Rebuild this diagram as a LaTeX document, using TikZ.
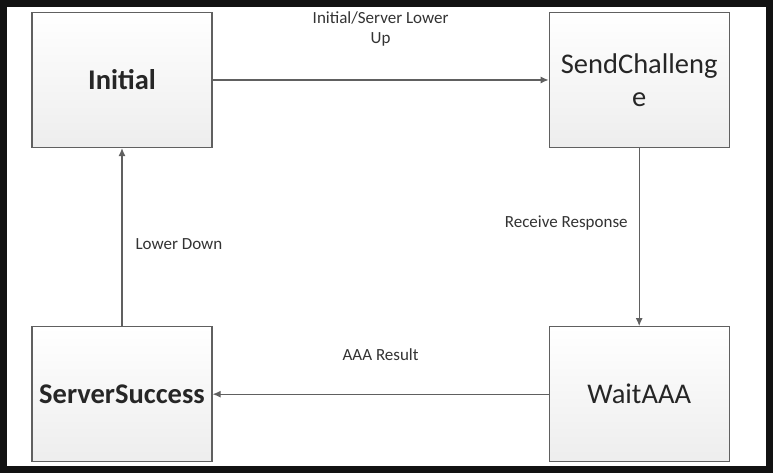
\documentclass[tikz,border=0pt]{standalone}
\usepackage{fontspec}
\setmainfont{Carlito}
\usetikzlibrary{positioning, arrows.meta}

\begin{document}
\begin{tikzpicture}[statenode/.style={rectangle, draw=gray!75!black, line width=1.2pt, top color=white, bottom color=gray!14, minimum width=180pt, minimum height=135pt, align=center, text=black!85, font=\fontsize{28.5pt}{33pt}\selectfont},
                     edgelabel/.style={align=center, text=black!80, inner sep=0pt, font=\fontsize{17pt}{20.5pt}\selectfont},
                     >={Latex[length=8pt, width=7pt]}]
    % Frame
    \fill[black!93] (0,0) rectangle (773pt,473pt);
    \fill[white] (7pt,7pt) rectangle (766pt,466pt);
    \useasboundingbox (0,0) rectangle (773pt,473pt);
    % Node
    \node[statenode, font=\bfseries\fontsize{28.5pt}{33pt}\selectfont] (initial) at (122pt,393pt) {Initial};
    \node[statenode] (sendchallenge) [right=336pt of initial] {SendChalleng\\e};
    \node[statenode, font=\bfseries\fontsize{28.5pt}{33pt}\selectfont] (serversuccess) [below=178pt of initial] {ServerSuccess};
    \node[statenode] (waitaaa) [below=178pt of sendchallenge] {WaitAAA};
    % Lines
    \draw[->, gray!75!black, line width=1.2pt] (initial.east) -- (sendchallenge.west) node[edgelabel, midway, above=33pt] {Initial/Server Lower\\Up};
    \draw[->, gray!75!black, line width=1.2pt] (sendchallenge.south) -- (waitaaa.north) node[edgelabel, midway, left=11pt, yshift=14pt] {Receive Response};
    \draw[->, gray!75!black, line width=1.2pt] (waitaaa.west) -- (serversuccess.east) node[edgelabel, midway, above=33pt] {AAA Result};
    \draw[->, gray!75!black, line width=1.2pt] (serversuccess.north) -- (initial.south) node[edgelabel, midway, right=13pt, yshift=-7pt] {Lower Down};
\end{tikzpicture}
\end{document}
